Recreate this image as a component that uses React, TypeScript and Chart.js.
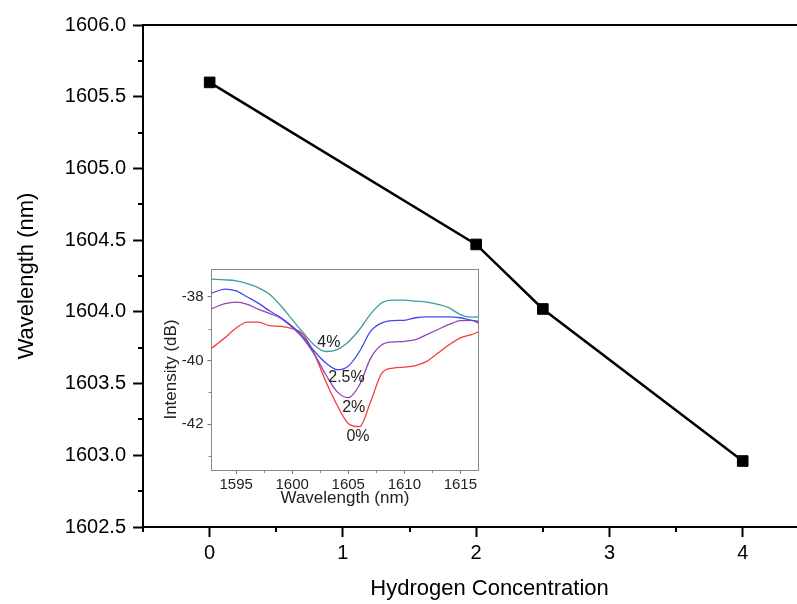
import React, { useEffect, useRef } from 'react';
import { Chart, registerables } from 'chart.js';

Chart.register(...registerables);

const FONT = "'Liberation Sans', Arial, Helvetica, sans-serif";

// ---- main chart data ----
const concentration = [0, 2, 2.5, 4];
const peakWavelength = [1605.6, 1604.47, 1604.02, 1602.96];

const mainXMin = -0.5;
const mainXMax = 4.7;
const mainXTickStart = -0.5;
const mainXTickEnd = 4.5;
const mainXTickStep = 0.5;
const mainYMin = 1602.5;
const mainYMax = 1606.0;
const mainYTickStep = 0.25;

// ---- inset data ----
const insetWavelength = [1592.8, 1594, 1595, 1596, 1597, 1598, 1599, 1600, 1601, 1602, 1603, 1604, 1605, 1606, 1607, 1608, 1609, 1610, 1611, 1612, 1613, 1614, 1615, 1616, 1616.6];
const intensity4 = [-37.45, -37.47, -37.5, -37.59, -37.72, -37.93, -38.29, -38.72, -39.14, -39.53, -39.72, -39.66, -39.42, -39.03, -38.54, -38.19, -38.11, -38.11, -38.14, -38.17, -38.24, -38.35, -38.56, -38.64, -38.63];
const intensity25 = [-37.89, -37.76, -37.82, -38.01, -38.21, -38.45, -38.66, -38.93, -39.27, -39.72, -40.08, -40.29, -40.18, -39.72, -39.08, -38.82, -38.75, -38.74, -38.66, -38.63, -38.63, -38.63, -38.66, -38.74, -38.77];
const intensity2 = [-38.38, -38.22, -38.17, -38.24, -38.4, -38.53, -38.68, -38.96, -39.32, -39.82, -40.45, -40.98, -41.17, -40.77, -39.93, -39.51, -39.42, -39.4, -39.35, -39.19, -39.03, -38.87, -38.75, -38.74, -38.82];
const intensity0 = [-39.62, -39.29, -38.98, -38.8, -38.8, -38.91, -38.93, -39.0, -39.19, -39.82, -40.66, -41.4, -41.98, -42.08, -41.29, -40.4, -40.24, -40.21, -40.16, -40.03, -39.77, -39.51, -39.29, -39.19, -39.1];
const seriesColors = ['#3a9e9a', '#4646f5', '#9244b0', '#f53c3c'];

const insetLabels = ['4%', '2.5%', '2%', '0%'];
const insetLabelX = [1603.27, 1604.84, 1605.49, 1605.87];
const insetLabelY = [-39.45, -40.54, -41.48, -42.4];

const insetXMin = 1592.8;
const insetXMax = 1616.6;
const insetXTickStart = 1595;
const insetXTickEnd = 1615;
const insetXTickStep = 2.5;
const insetYMin = -43.44;
const insetYMax = -37.13;
const insetYTickStart = -43;
const insetYTickEnd = -38;
const insetYTickStep = 1;

function range(a: number, b: number, step: number) {
  const out: number[] = [];
  const n = Math.round((b - a) / step);
  for (let i = 0; i <= n; i++) out.push(+(a + i * step).toFixed(4));
  return out;
}
const near = (v: number, m: number) => Math.abs(v / m - Math.round(v / m)) < 1e-6;

function makeDecor(cfg: {
  id: string;
  color: string;
  width: number;
  minorLen: number;
  majorX: (v: number) => boolean;
  majorY: (v: number) => boolean;
  rightLine: boolean;
  labels?: { text: string[]; x: number[]; y: number[]; font: string; color: string };
}) {
  return {
    id: cfg.id,
    afterDraw(chart: any) {
      const { ctx, chartArea } = chart;
      const { left, right, top, bottom } = chartArea;
      const xs = chart.scales.x;
      const ys = chart.scales.y;
      ctx.save();
      ctx.strokeStyle = cfg.color;
      ctx.lineWidth = cfg.width;
      const off = cfg.width % 2 === 1 ? 0.5 : 0;
      ctx.beginPath();
      ctx.moveTo(Math.round(left) - cfg.width / 2, Math.round(top) + off);
      ctx.lineTo(Math.round(right) + cfg.width / 2, Math.round(top) + off);
      if (cfg.rightLine) {
        ctx.moveTo(Math.round(right) + off, Math.round(top));
        ctx.lineTo(Math.round(right) + off, Math.round(bottom));
      }
      for (const t of xs.ticks) {
        if (cfg.majorX(t.value)) continue;
        const p = Math.round(xs.getPixelForValue(t.value)) + off;
        ctx.moveTo(p, bottom);
        ctx.lineTo(p, bottom + cfg.minorLen);
      }
      for (const t of ys.ticks) {
        if (cfg.majorY(t.value)) continue;
        const p = Math.round(ys.getPixelForValue(t.value)) + off;
        ctx.moveTo(left, p);
        ctx.lineTo(left - cfg.minorLen, p);
      }
      ctx.stroke();
      if (cfg.labels) {
        const L = cfg.labels;
        ctx.fillStyle = L.color;
        ctx.font = L.font;
        ctx.textAlign = 'center';
        ctx.textBaseline = 'middle';
        L.text.forEach((s, i) => {
          ctx.fillText(s, xs.getPixelForValue(L.x[i]), ys.getPixelForValue(L.y[i]));
        });
      }
      ctx.restore();
    },
  };
}

const zeroPad = (s: any) => {
  s.paddingLeft = 0;
  s.paddingRight = 0;
  s.paddingTop = 0;
  s.paddingBottom = 0;
};

export default function App() {
  const mainRef = useRef<HTMLCanvasElement>(null);
  const insetRef = useRef<HTMLCanvasElement>(null);

  useEffect(() => {
    const isMajX = (v: number) => near(v, 1);
    const isMajY = (v: number) => near(v, 0.5);
    const main = new Chart(mainRef.current as HTMLCanvasElement, {
      type: 'line',
      data: {
        datasets: [
          {
            data: concentration.map((x, i) => ({ x, y: peakWavelength[i] })),
            borderColor: '#000',
            borderWidth: 2.5,
            pointStyle: 'rect',
            pointRadius: 7.5,
            pointBackgroundColor: '#000',
            pointBorderColor: '#000',
            pointBorderWidth: 1,
            tension: 0,
            clip: false,
          },
        ],
      },
      options: {
        responsive: false,
        animation: false,
        layout: { autoPadding: false, padding: { top: 25, right: 0, left: 0, bottom: 0 } },
        plugins: { legend: { display: false }, tooltip: { enabled: false } },
        scales: {
          x: {
            type: 'linear',
            min: mainXMin,
            max: mainXMax,
            afterBuildTicks: (s: any) => {
              s.ticks = range(mainXTickStart, mainXTickEnd, mainXTickStep).map((value) => ({ value }));
            },
            afterFit: (s: any) => {
              s.height = 77;
              zeroPad(s);
            },
            grid: {
              drawOnChartArea: false,
              drawTicks: true,
              tickLength: 10,
              tickWidth: 2,
              tickColor: (c: any) => (c.tick && isMajX(c.tick.value) ? '#000' : 'rgba(0,0,0,0)'),
            },
            border: { display: true, color: '#000', width: 2 },
            ticks: {
              autoSkip: false,
              maxRotation: 0,
              padding: 4,
              color: '#000',
              font: { family: FONT, size: 20 },
              callback: (v: any) => (isMajX(Number(v)) ? String(Math.round(Number(v))) : ''),
            },
            title: {
              display: true,
              text: 'Hydrogen Concentration',
              color: '#000',
              font: { family: FONT, size: 22 },
              padding: { top: 0, bottom: 2 },
            },
          },
          y: {
            type: 'linear',
            min: mainYMin,
            max: mainYMax,
            afterBuildTicks: (s: any) => {
              s.ticks = range(mainYMin, mainYMax, mainYTickStep).map((value) => ({ value }));
            },
            afterFit: (s: any) => {
              s.width = 143;
              zeroPad(s);
            },
            grid: {
              drawOnChartArea: false,
              drawTicks: true,
              tickLength: 10,
              tickWidth: 2,
              tickColor: (c: any) => (c.tick && isMajY(c.tick.value) ? '#000' : 'rgba(0,0,0,0)'),
            },
            border: { display: true, color: '#000', width: 2 },
            ticks: {
              autoSkip: false,
              padding: 7,
              color: '#000',
              font: { family: FONT, size: 20 },
              callback: (v: any) => (isMajY(Number(v)) ? Number(v).toFixed(1) : ''),
            },
            title: {
              display: true,
              text: 'Wavelength (nm)',
              color: '#000',
              font: { family: FONT, size: 22 },
              padding: { top: 14, bottom: 0 },
            },
          },
        },
      },
      plugins: [
        makeDecor({
          id: 'mainDecor',
          color: '#000',
          width: 2,
          minorLen: 5,
          majorX: isMajX,
          majorY: isMajY,
          rightLine: false,
        }),
      ],
    } as any);

    const isMajIX = (v: number) => near(v, 5);
    const isMajIY = (v: number) => near(v, 2);
    const insetSeries = [intensity4, intensity25, intensity2, intensity0];
    const inset = new Chart(insetRef.current as HTMLCanvasElement, {
      type: 'line',
      data: {
        datasets: insetSeries.map((arr, k) => ({
          data: insetWavelength.map((x, i) => ({ x, y: arr[i] })),
          borderColor: seriesColors[k],
          borderWidth: 1.3,
          pointRadius: 0,
          tension: 0.4,
          cubicInterpolationMode: 'monotone',
        })),
      },
      options: {
        responsive: false,
        animation: false,
        layout: { autoPadding: false, padding: { top: 9, right: 11.7, left: 0, bottom: 0 } },
        plugins: { legend: { display: false }, tooltip: { enabled: false } },
        scales: {
          x: {
            type: 'linear',
            min: insetXMin,
            max: insetXMax,
            afterBuildTicks: (s: any) => {
              s.ticks = range(insetXTickStart, insetXTickEnd, insetXTickStep).map((value) => ({ value }));
            },
            afterFit: (s: any) => {
              s.height = 45;
              zeroPad(s);
            },
            grid: {
              drawOnChartArea: false,
              drawTicks: true,
              tickLength: 4,
              tickWidth: 1,
              tickColor: (c: any) => (c.tick && isMajIX(c.tick.value) ? '#777' : 'rgba(0,0,0,0)'),
            },
            border: { display: true, color: '#888', width: 1 },
            ticks: {
              autoSkip: false,
              maxRotation: 0,
              padding: 2,
              color: '#222',
              font: { family: FONT, size: 15 },
              callback: (v: any) => (isMajIX(Number(v)) ? String(Math.round(Number(v))) : ''),
            },
            title: {
              display: true,
              text: 'Wavelength (nm)',
              color: '#222',
              font: { family: FONT, size: 17 },
              padding: { top: 0, bottom: 6 },
            },
          },
          y: {
            type: 'linear',
            min: insetYMin,
            max: insetYMax,
            afterBuildTicks: (s: any) => {
              s.ticks = range(insetYTickStart, insetYTickEnd, insetYTickStep).map((value) => ({ value }));
            },
            afterFit: (s: any) => {
              s.width = 61.5;
              zeroPad(s);
            },
            grid: {
              drawOnChartArea: false,
              drawTicks: true,
              tickLength: 4,
              tickWidth: 1,
              tickColor: (c: any) => (c.tick && isMajIY(c.tick.value) ? '#777' : 'rgba(0,0,0,0)'),
            },
            border: { display: true, color: '#888', width: 1 },
            ticks: {
              autoSkip: false,
              padding: 4,
              color: '#222',
              font: { family: FONT, size: 15 },
              callback: (v: any) => (isMajIY(Number(v)) ? String(Math.round(Number(v))) : ''),
            },
            title: {
              display: true,
              text: 'Intensity (dB)',
              color: '#222',
              font: { family: FONT, size: 17 },
              padding: { top: 11, bottom: 0 },
            },
          },
        },
      },
      plugins: [
        makeDecor({
          id: 'insetDecor',
          color: '#888',
          width: 1,
          minorLen: 3,
          majorX: isMajIX,
          majorY: isMajIY,
          rightLine: true,
          labels: {
            text: insetLabels,
            x: insetLabelX,
            y: insetLabelY,
            font: `16px ${FONT}`,
            color: '#222',
          },
        }),
      ],
    } as any);

    return () => {
      main.destroy();
      inset.destroy();
    };
  }, []);

  return (
    <div
      style={{
        position: 'absolute',
        left: 0,
        top: 0,
        width: 797,
        height: 604,
        overflow: 'hidden',
        background: '#fff',
      }}
    >
      <canvas ref={mainRef} width={836} height={604} style={{ position: 'absolute', left: 0, top: 0, width: 836, height: 604 }} />
      <canvas ref={insetRef} width={340} height={255} style={{ position: 'absolute', left: 150, top: 260, width: 340, height: 255 }} />
    </div>
  );
}
